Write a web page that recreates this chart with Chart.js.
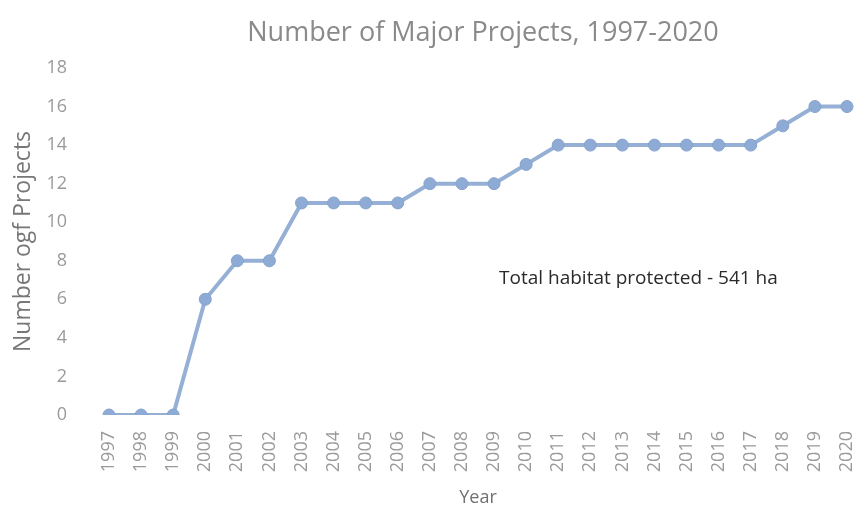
<!DOCTYPE html>
<html>
<head>
<meta charset="utf-8">
<script src="https://cdn.jsdelivr.net/npm/chart.js@4/dist/chart.umd.min.js"></script>
<style>
  html, body { margin: 0; padding: 0; background: #ffffff; }
  #wrap { width: 859px; height: 513px; }
</style>
</head>
<body>
<div id="wrap"><canvas id="grafico" width="859" height="513"></canvas></div>
<script>
// Anos e número acumulado de projetos
const anos = ["1997", "1998", "1999", "2000", "2001", "2002", "2003", "2004", "2005", "2006", "2007", "2008",
  "2009", "2010", "2011", "2012", "2013", "2014", "2015", "2016", "2017", "2018", "2019", "2020"];
const projetos = [0, 0, 0, 6, 8, 8, 11, 11, 11, 11, 12, 12, 12, 13, 14, 14, 14, 14, 14, 14, 14, 15, 16, 16];
const ticksY = [0, 2, 4, 6, 8, 10, 12, 14, 16, 18];
const titulo = "Number of Major Projects, 1997-2020";
const nota = "Total habitat protected - 541 ha";

const fonte = "'Open Sans', Lato, sans-serif";
const corLinha = "#95afd5";

// Título centrado sobre a área de plotagem e nota dentro dela
const textosPlugin = {
  id: "textos",
  afterDatasetsDraw(chart) {
    const ctx = chart.ctx;
    const area = chart.chartArea;
    ctx.save();
    ctx.textAlign = "center";
    ctx.textBaseline = "middle";

    ctx.font = "27px " + fonte;
    ctx.fillStyle = "#8a8a8a";
    ctx.fillText(titulo, (area.left + area.right) / 2 + 5, 33);

    ctx.font = "19px " + fonte;
    ctx.fillStyle = "#2a2a2a";
    ctx.fillText(nota, chart.scales.x.getPixelForValue(16.5), chart.scales.y.getPixelForValue(7.1));
    ctx.restore();
  }
};

new Chart(document.getElementById("grafico").getContext("2d"), {
  type: "line",
  data: {
    labels: anos,
    datasets: [{
      data: projetos,
      borderColor: corLinha,
      backgroundColor: corLinha,
      pointBackgroundColor: "#8eabd5",
      pointBorderColor: "#86a3cc",
      pointBorderWidth: 1,
      borderWidth: 4,
      pointRadius: 6,
      tension: 0
    }]
  },
  options: {
    responsive: false,
    animation: false,
    layout: { padding: { left: 0, right: 12, top: 68, bottom: 0 } },
    plugins: {
      legend: { display: false },
      tooltip: { enabled: false },
      title: { display: false }
    },
    scales: {
      x: {
        offset: false,
        grid: { display: false },
        border: { display: false },
        afterFit(scale) {
          scale.height = 98;
          scale.paddingLeft = 0;
          scale.paddingRight = 0;
        },
        ticks: {
          color: "#9a9a9a",
          font: { family: fonte, size: 18 },
          maxRotation: 90,
          minRotation: 90,
          padding: 8,
          autoSkip: false
        },
        title: {
          display: true,
          text: "Year",
          color: "#707070",
          font: { family: fonte, size: 18 },
          padding: { top: 4 }
        }
      },
      y: {
        min: 0,
        max: 18,
        grid: { display: false },
        border: { display: false },
        afterFit(scale) {
          scale.width = 109;
          scale.paddingTop = 0;
          scale.paddingBottom = 0;
        },
        afterBuildTicks(scale) { scale.ticks = ticksY.map(v => ({ value: v })); },
        ticks: {
          color: "#9a9a9a",
          font: { family: fonte, size: 18 },
          padding: 34
        },
        title: {
          display: true,
          text: "Number ogf Projects",
          color: "#777777",
          font: { family: fonte, size: 23 },
          padding: { top: 10, bottom: 0 }
        }
      }
    }
  },
  plugins: [textosPlugin]
});
</script>
</body>
</html>
